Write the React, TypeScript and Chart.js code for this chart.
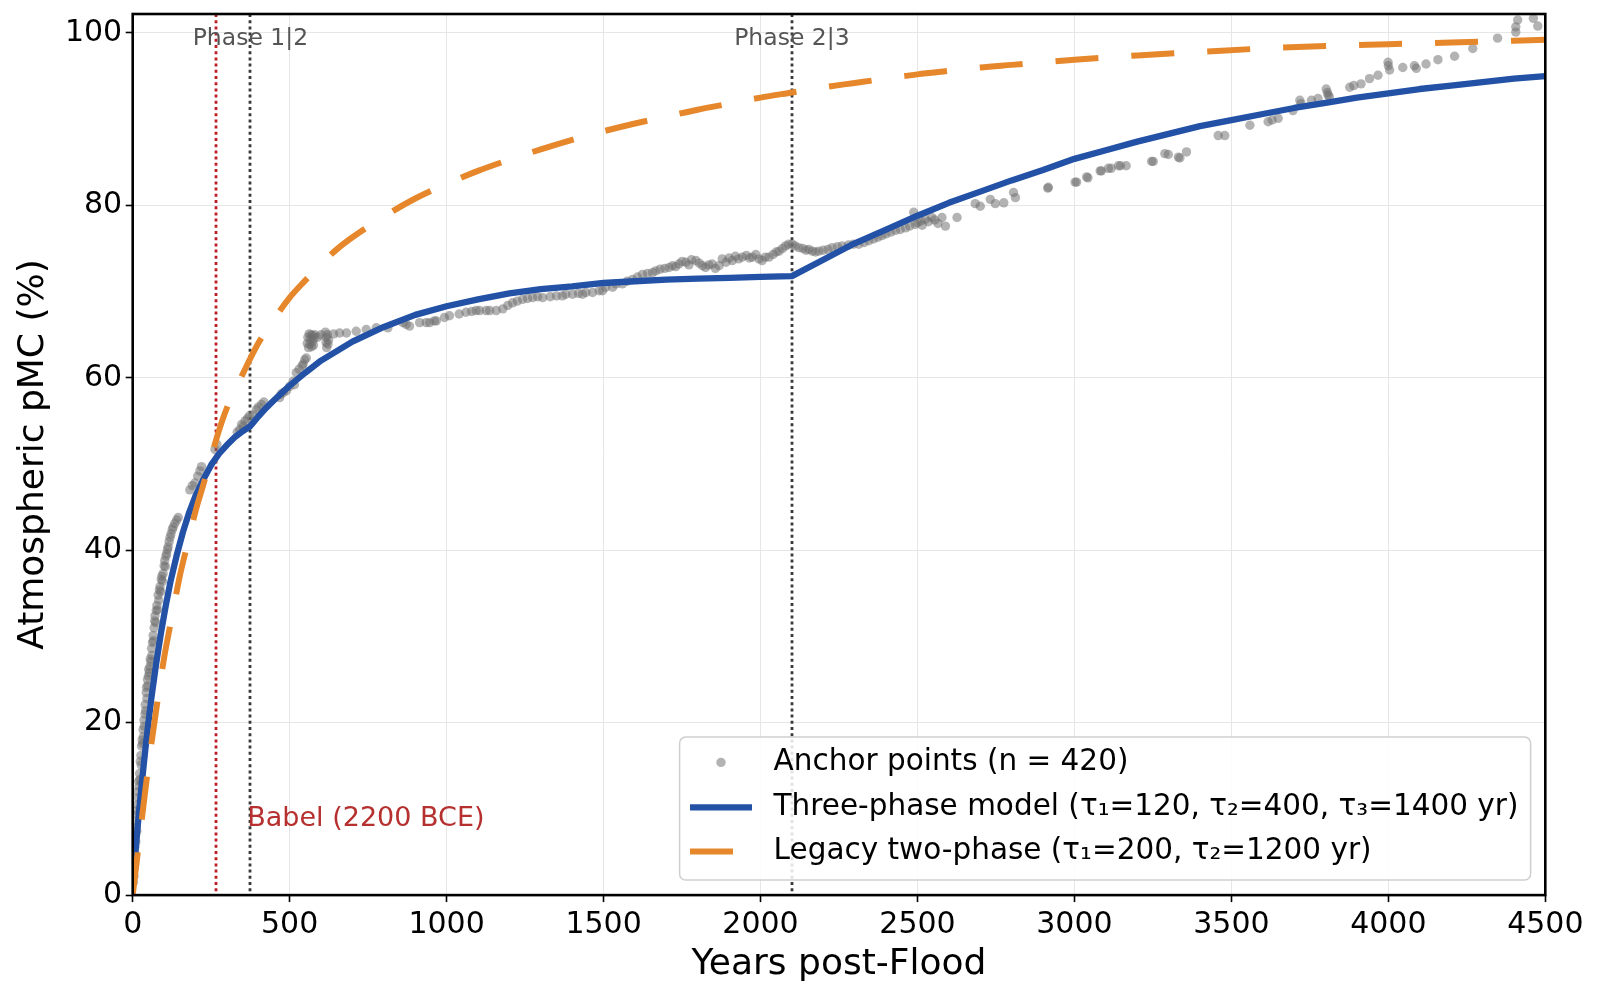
import { useEffect, useRef } from "react";
import { Chart, registerables } from "chart.js";

Chart.register(...registerables);

const FONT_FAMILY = "'DejaVu Sans', 'Liberation Sans', sans-serif";

// Three-phase model curve: years post-Flood -> atmospheric pMC (%)
const modelYears = [
  0, 5, 10, 15, 20, 30, 40, 50, 60, 75, 90, 105, 120, 140, 160, 180, 200, 225, 250, 275, 300, 325, 350, 375,
  400, 425, 450, 500, 550, 600, 650, 700, 800, 900, 1000, 1100, 1200, 1300, 1400, 1500, 1600, 1700, 1800, 1900,
  2000, 2100, 2200, 2300, 2400, 2500, 2600, 2700, 2800, 2900, 3000, 3100, 3200, 3300, 3400, 3500, 3600, 3700,
  3800, 3900, 4000, 4100, 4200, 4300, 4400, 4500,
];
const modelPmc = [
  1.0, 3.3, 5.5, 7.6, 9.6, 13.3, 16.8, 20.0, 23.0, 26.9, 30.4, 33.5, 36.3, 39.4, 42.1, 44.4, 46.3, 48.2, 49.9,
  51.2, 52.2, 53.1, 53.8, 54.4, 55.5, 56.5, 57.4, 59.1, 60.6, 62.0, 63.1, 64.2, 65.9, 67.3, 68.3, 69.1, 69.8,
  70.3, 70.6, 71.0, 71.2, 71.4, 71.5, 71.6, 71.7, 71.8, 73.7, 75.6, 77.2, 78.8, 80.3, 81.6, 82.9, 84.1, 85.4,
  86.4, 87.4, 88.3, 89.2, 89.9, 90.6, 91.3, 91.9, 92.5, 93.0, 93.5, 93.9, 94.3, 94.7, 95.0,
];

// Legacy two-phase curve
const legacyYears = [
  0, 25, 50, 75, 100, 125, 150, 175, 200, 225, 250, 275, 300, 350, 400, 450, 500, 550, 600, 650, 700, 800, 900,
  1000, 1100, 1200, 1300, 1400, 1500, 1600, 1700, 1800, 1900, 2000, 2100, 2200, 2300, 2400, 2500, 2600, 2700,
  2800, 2900, 3000, 3200, 3400, 3600, 3800, 4000, 4200, 4400, 4500,
];
const legacyPmc = [
  0, 7.6, 15.0, 21.5, 27.5, 32.3, 37.0, 40.8, 44.5, 47.6, 50.8, 53.9, 56.5, 60.4, 64.0, 66.8, 69.3, 71.3, 73.2,
  74.9, 76.3, 78.7, 80.8, 82.5, 84.0, 85.3, 86.5, 87.6, 88.6, 89.5, 90.3, 91.1, 91.8, 92.5, 93.1, 93.7, 94.2,
  94.7, 95.2, 95.6, 96.0, 96.3, 96.6, 96.9, 97.4, 97.8, 98.2, 98.5, 98.7, 98.9, 99.1, 99.2,
];

// Anchor points [year, pMC]
const anchorPoints: [number, number][] = [
  [2, 1.5], [3, 3.0], [4, 2.2], [5, 4.1], [6, 3.5], [7, 5.6], [8, 4.8], [9, 6.9], [10, 6.2], [11, 7.8],
  [12, 8.6], [13, 7.4], [14, 9.8], [15, 10.5], [16, 9.4], [17, 12.0], [18, 11.3], [19, 13.2], [20, 12.6],
  [22, 14.1], [23, 13.4], [24, 15.5], [26, 16.2], [27, 15.1], [28, 17.3], [29, 13.1], [30, 18.0], [32, 17.6],
  [33, 19.2], [34, 18.4], [36, 20.3], [37, 19.6], [39, 21.0], [40, 22.1], [41, 21.4], [43, 23.5], [44, 24.1],
  [45, 22.8], [47, 25.0], [48, 24.3], [50, 25.4], [51, 26.2], [53, 25.8], [55, 26.5], [56, 27.4], [58, 27.1],
  [60, 28.6], [61, 27.8], [63, 29.3], [65, 30.1], [66, 29.5], [68, 31.0], [70, 31.8], [71, 32.4], [73, 31.6],
  [75, 33.0], [77, 33.6], [79, 33.1], [81, 34.8], [83, 34.2], [85, 35.4], [87, 35.8], [89, 35.2], [91, 36.6],
  [93, 37.0], [95, 36.4], [97, 37.3], [100, 38.2], [102, 38.8], [104, 38.1], [106, 39.3], [108, 39.6],
  [111, 40.1], [113, 40.4], [116, 41.0], [119, 41.5], [122, 41.9], [126, 42.4], [129, 42.7], [134, 43.1],
  [140, 43.5], [145, 43.8],
  [182, 47.0], [190, 47.5], [198, 47.8], [207, 48.6], [214, 49.2], [219, 49.7], [262, 51.7], [268, 52.3],
  [333, 53.7], [341, 54.0], [347, 54.6], [352, 54.4], [358, 55.0], [366, 55.3], [372, 55.6],
  [384, 55.7], [394, 56.3], [400, 56.6], [410, 56.9], [418, 57.2], [468, 57.7], [472, 58.1], [480, 58.3],
  [490, 58.5], [500, 59.0], [511, 59.6], [515, 59.2], [521, 60.6], [530, 61.0], [540, 61.4], [543, 61.6],
  [548, 62.1], [553, 62.3], [556, 64.0], [558, 64.7], [560, 63.5], [562, 65.1], [564, 63.9], [566, 64.5],
  [568, 65.0], [570, 63.6], [572, 64.2], [574, 64.9], [576, 63.8], [578, 64.6], [580, 65.0], [590, 64.7],
  [600, 65.0], [614, 65.3], [616, 64.1], [617, 64.7], [618, 63.5], [620, 65.0], [622, 63.9], [624, 64.4],
  [640, 65.1], [659, 65.2], [681, 65.2],
  [712, 65.4], [744, 65.6], [776, 65.8], [813, 65.8], [861, 66.4], [871, 66.2], [882, 66.0], [914, 66.4],
  [935, 66.4], [946, 66.4], [961, 66.6], [967, 66.6], [993, 67.0], [1009, 67.2], [1040, 67.4], [1062, 67.6],
  [1080, 67.7], [1094, 67.8], [1105, 67.8], [1126, 67.8], [1137, 67.8], [1158, 67.8], [1179, 68.0],
  [1195, 68.4], [1210, 68.7], [1225, 68.9], [1242, 69.1], [1258, 69.2], [1274, 69.3], [1290, 69.4],
  [1306, 69.3], [1330, 69.4], [1350, 69.5], [1369, 69.5], [1380, 69.7], [1401, 69.7], [1420, 69.8],
  [1433, 69.7], [1444, 69.9], [1465, 69.9], [1486, 70.1], [1497, 70.1], [1507, 70.5], [1529, 70.5],
  [1539, 70.9], [1560, 70.9], [1575, 71.2], [1592, 71.4], [1608, 71.7], [1624, 72.0], [1640, 72.1],
  [1656, 72.2], [1666, 72.4], [1680, 72.6], [1695, 72.7],
  [1709, 72.8], [1720, 73.0], [1730, 72.9], [1740, 73.2], [1750, 73.5], [1762, 73.4], [1772, 73.1],
  [1780, 73.7], [1794, 73.6], [1805, 73.3], [1815, 73.0], [1825, 72.8], [1835, 73.1], [1846, 73.2],
  [1856, 72.7], [1868, 73.0], [1878, 73.8], [1890, 73.4], [1900, 73.9], [1910, 73.6], [1920, 74.1],
  [1930, 73.8], [1942, 74.0], [1955, 74.2], [1965, 73.9], [1974, 74.0], [1985, 74.3], [1995, 73.8],
  [2005, 73.6], [2015, 74.0], [2027, 74.0], [2040, 74.3], [2050, 74.6], [2059, 74.7], [2070, 75.0],
  [2080, 75.3], [2090, 75.5], [2101, 75.5], [2110, 75.3], [2122, 75.1], [2135, 75.0], [2145, 74.8],
  [2154, 74.9], [2165, 74.7], [2175, 74.6], [2186, 74.7], [2200, 74.8], [2215, 74.9], [2228, 75.1],
  [2245, 75.2], [2260, 75.3], [2280, 75.4], [2296, 75.5], [2313, 75.5], [2330, 75.7], [2345, 75.9],
  [2360, 76.1], [2374, 76.3], [2387, 76.5], [2400, 76.7], [2415, 76.9], [2430, 77.1], [2445, 77.2],
  [2462, 77.4], [2475, 77.6], [2488, 79.2], [2493, 77.8], [2500, 78.0], [2510, 78.2], [2515, 77.7],
  [2525, 78.4], [2535, 78.1], [2546, 78.6], [2555, 78.3], [2565, 77.9], [2578, 78.6], [2589, 77.6],
  [2626, 78.6], [2684, 80.2], [2700, 79.9], [2732, 80.7], [2748, 80.2], [2775, 80.3], [2806, 81.5],
  [2812, 80.9],
  [2915, 82.0], [2917, 82.1], [3002, 82.7], [3007, 82.7], [3039, 83.3], [3043, 83.2], [3082, 84.0],
  [3086, 84.0], [3108, 84.3], [3117, 84.3], [3140, 84.6], [3147, 84.6], [3165, 84.6], [3246, 85.1],
  [3251, 85.1], [3288, 86.0], [3299, 85.9], [3331, 85.6], [3336, 85.5], [3357, 86.2], [3458, 88.1],
  [3479, 88.1], [3559, 89.3], [3617, 89.7], [3630, 89.9], [3649, 90.1], [3696, 91.0], [3718, 92.2],
  [3722, 91.8], [3755, 92.2], [3776, 92.4], [3802, 93.5], [3806, 93.1], [3808, 92.8], [3812, 92.6],
  [3877, 93.7], [3890, 93.9], [3913, 94.1], [3940, 94.7], [3967, 95.1], [3999, 96.6], [4000, 96.2],
  [4004, 95.7], [4046, 96.0], [4083, 96.2], [4089, 95.9], [4120, 96.4], [4158, 96.9], [4211, 97.3],
  [4269, 98.2], [4348, 99.4], [4406, 100.1], [4406, 100.7], [4412, 101.5], [4462, 101.7], [4476, 100.8],
];

const xTicks = [0, 500, 1000, 1500, 2000, 2500, 3000, 3500, 4000, 4500];
const yTicks = [0, 20, 40, 60, 80, 100];
const X_MAX = 4500;
const Y_MAX = 102.2;

const BABEL_YEAR = 265;
const BABEL_LABEL = "Babel (2200 BCE)";
const phaseBreaks = [375, 2100];
const phaseLabels = ["Phase 1|2", "Phase 2|3"];

const legendLabels = [
  "Anchor points (n = 420)",
  "Three-phase model (τ₁=120, τ₂=400, τ₃=1400 yr)",
  "Legacy two-phase (τ₁=200, τ₂=1200 yr)",
];

const BLUE = "#2251a6";
const ORANGE = "#e6872b";
const DOT = "rgba(110,110,110,0.52)";
const BABEL_RED = "#bb2028";
const PHASE_GREY = "#3a3a3a";

// Vertical event markers and their captions, drawn under the data
const markerPlugin = {
  id: "eventMarkers",
  beforeDatasetsDraw(chart: any) {
    const { ctx, chartArea: a, scales } = chart;
    const x = scales.x;
    const y = scales.y;
    ctx.save();
    ctx.lineWidth = 2.8;
    ctx.lineCap = "butt";
    ctx.setLineDash([3, 3.2]);

    const vline = (year: number, color: string) => {
      const px = Math.round(x.getPixelForValue(year));
      ctx.strokeStyle = color;
      ctx.beginPath();
      ctx.moveTo(px, a.top);
      ctx.lineTo(px, a.bottom);
      ctx.stroke();
    };
    vline(BABEL_YEAR, BABEL_RED);
    phaseBreaks.forEach((yr) => vline(yr, PHASE_GREY));
    ctx.setLineDash([]);

    ctx.textBaseline = "middle";
    ctx.textAlign = "center";
    ctx.font = `23.5px ${FONT_FAMILY}`;
    ctx.fillStyle = "#555555";
    phaseBreaks.forEach((yr, i) => {
      ctx.fillText(phaseLabels[i], x.getPixelForValue(yr), a.top + 24.5);
    });

    ctx.textAlign = "left";
    ctx.font = `27px ${FONT_FAMILY}`;
    ctx.fillStyle = "#b5302f";
    ctx.fillText(BABEL_LABEL, x.getPixelForValue(BABEL_YEAR + 100), y.getPixelForValue(8.8));
    ctx.restore();
  },
};

// Black frame around the plotting area
const framePlugin = {
  id: "plotFrame",
  afterDatasetsDraw(chart: any) {
    const { ctx, chartArea: a } = chart;
    ctx.save();
    ctx.strokeStyle = "#000";
    ctx.lineWidth = 2.6;
    ctx.strokeRect(a.left, a.top, a.right - a.left, a.bottom - a.top);
    ctx.restore();
  },
};

// Boxed legend in the lower-right corner of the plot
const legendPlugin = {
  id: "boxLegend",
  afterDraw(chart: any) {
    const { ctx, chartArea: a } = chart;
    const ds = chart.data.datasets;
    const w = 851;
    const h = 143;
    const left = a.right - 14.7 - w;
    const top = a.bottom - 15 - h;
    ctx.save();
    ctx.beginPath();
    ctx.roundRect(left, top, w, h, 6);
    ctx.fillStyle = "rgba(255,255,255,0.85)";
    ctx.fill();
    ctx.strokeStyle = "#cfcfcf";
    ctx.lineWidth = 1.5;
    ctx.stroke();

    const rows = [top + 25.3, top + 70.3, top + 114.3];
    const hx0 = left + 10.4;
    const hx1 = left + 72.4;
    const textX = left + 94;

    // row 0: anchor marker
    const anchors = ds.find((d: any) => d.id === "anchors");
    ctx.fillStyle = anchors.backgroundColor;
    ctx.beginPath();
    ctx.arc((hx0 + hx1) / 2, rows[0], anchors.pointRadius, 0, Math.PI * 2);
    ctx.fill();

    // rows 1-2: line handles
    const lineRow = (d: any, yy: number) => {
      ctx.strokeStyle = d.borderColor;
      ctx.lineWidth = d.borderWidth;
      ctx.lineCap = "butt";
      ctx.setLineDash(d.borderDash || []);
      ctx.beginPath();
      ctx.moveTo(hx0, yy);
      ctx.lineTo(hx1, yy);
      ctx.stroke();
      ctx.setLineDash([]);
    };
    lineRow(ds.find((d: any) => d.id === "model"), rows[1]);
    lineRow(ds.find((d: any) => d.id === "legacy"), rows[2]);

    ctx.fillStyle = "#000";
    ctx.font = `29.5px ${FONT_FAMILY}`;
    ctx.textAlign = "left";
    ctx.textBaseline = "middle";
    legendLabels.forEach((t, i) => ctx.fillText(t, textX, rows[i]));
    ctx.restore();
  },
};

// Keep the axes from reserving extra room for their edge labels
const clearScalePadding = (s: any) => {
  s.paddingTop = 0;
  s.paddingBottom = 0;
  s.paddingLeft = 0;
  s.paddingRight = 0;
};

export default function App() {
  const canvasRef = useRef<HTMLCanvasElement>(null);

  useEffect(() => {
    const canvas = canvasRef.current;
    if (!canvas) return;

    const tickFont = { family: FONT_FAMILY, size: 30 };
    const titleFont = { family: FONT_FAMILY, size: 36 };
    const grid = { color: "#e6e6e6", lineWidth: 1, tickColor: "#000", tickLength: 7, tickWidth: 1.6 };

    const chart = new Chart(canvas, {
      type: "scatter",
      data: {
        datasets: [
          {
            id: "legacy",
            type: "line",
            data: legacyYears.map((yr, i) => ({ x: yr, y: legacyPmc[i] })),
            borderColor: ORANGE,
            borderWidth: 6,
            borderDash: [43, 33],
            borderCapStyle: "butt",
            cubicInterpolationMode: "monotone",
            pointRadius: 0,
            fill: false,
            order: 0,
          },
          {
            id: "model",
            type: "line",
            data: modelYears.map((yr, i) => ({ x: yr, y: modelPmc[i] })),
            borderColor: BLUE,
            borderWidth: 6.3,
            borderCapStyle: "butt",
            borderJoinStyle: "round",
            tension: 0,
            pointRadius: 0,
            fill: false,
            order: 1,
          },
          {
            id: "anchors",
            data: anchorPoints.map(([yr, v]) => ({ x: yr, y: v })),
            backgroundColor: DOT,
            borderWidth: 0,
            pointBorderWidth: 0,
            pointRadius: 4.7,
            order: 2,
          },
        ] as any,
      },
      options: {
        animation: false,
        responsive: false,
        events: [],
        layout: { padding: { top: 14, right: 54.7, bottom: 0, left: 0 }, autoPadding: false } as any,
        plugins: { legend: { display: false }, tooltip: { enabled: false } },
        scales: {
          x: {
            type: "linear",
            min: 0,
            max: X_MAX,
            afterBuildTicks: (s: any) => {
              s.ticks = xTicks.map((v) => ({ value: v }));
            },
            afterFit: (s: any) => {
              s.height = 104.9;
              clearScalePadding(s);
            },
            ticks: {
              callback: (v: any) => String(v),
              font: tickFont,
              color: "#000",
              padding: 5,
              maxRotation: 0,
              autoSkip: false,
            },
            grid,
            border: { display: false },
            title: {
              display: true,
              text: "Years post-Flood",
              font: titleFont,
              color: "#000",
              padding: { top: 0, bottom: 14 },
            },
          },
          y: {
            type: "linear",
            min: 0,
            max: Y_MAX,
            afterBuildTicks: (s: any) => {
              s.ticks = yTicks.map((v) => ({ value: v }));
            },
            afterFit: (s: any) => {
              s.width = 132.7;
              clearScalePadding(s);
            },
            ticks: {
              callback: (v: any) => String(v),
              font: tickFont,
              color: "#000",
              padding: 3.5,
              autoSkip: false,
            },
            grid,
            border: { display: false },
            title: {
              display: true,
              text: "Atmospheric pMC (%)",
              font: titleFont,
              color: "#000",
              padding: { top: 12, bottom: 0 },
            },
          },
        },
      } as any,
      plugins: [markerPlugin, framePlugin, legendPlugin],
    });

    return () => chart.destroy();
  }, []);

  return (
    <div style={{ position: "absolute", left: 0, top: 0, width: 1600, height: 1000, background: "#fff" }}>
      <canvas ref={canvasRef} width={1600} height={1000} style={{ display: "block" }} />
    </div>
  );
}
